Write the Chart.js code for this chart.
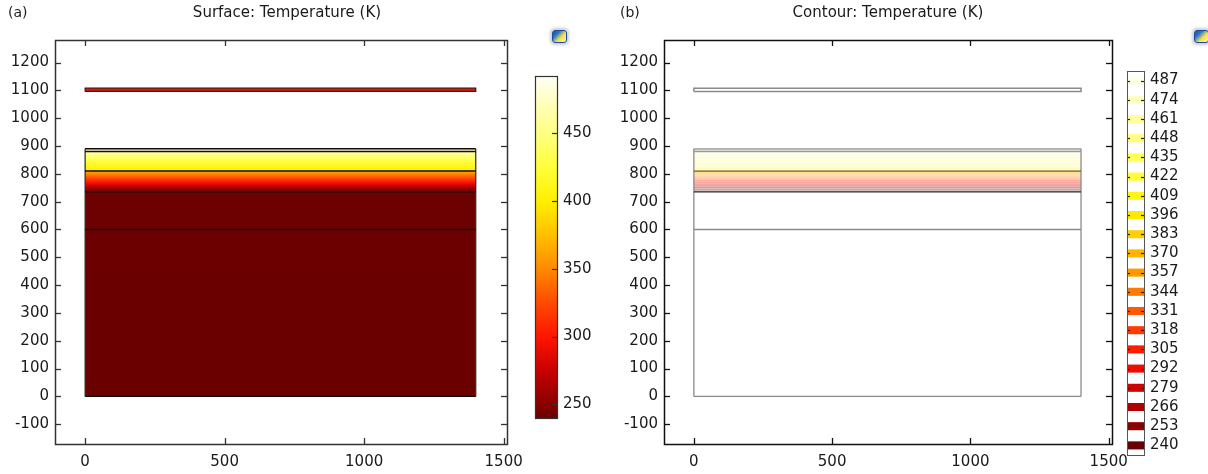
<!DOCTYPE html>
<html><head><meta charset="utf-8">
<script src="https://cdn.jsdelivr.net/npm/chart.js@4.4.0/dist/chart.umd.min.js"></script>
<style>
html,body{margin:0;padding:0;background:#fff;}
body{width:1208px;height:474px;position:relative;overflow:hidden;}
canvas{position:absolute;top:0;}
.ico{position:absolute;width:13px;height:11px;border-radius:3px;border:1px solid #1b4c9c;
 background:linear-gradient(135deg,#1b4c9c 0%,#2f78c8 30%,#f4e04a 60%,#fff7b0 100%);box-shadow:0 0 3px 2px rgba(170,170,180,0.6);}
</style></head><body>
<canvas id="pa" width="530" height="474" style="left:0"></canvas>
<canvas id="ca" width="80" height="474" style="left:525px"></canvas>
<canvas id="pb" width="530" height="474" style="left:608px"></canvas>
<canvas id="lb" width="90" height="474" style="left:1118px"></canvas>
<div class="ico" style="left:552px;top:30px"></div>
<div class="ico" style="left:1194px;top:30px"></div>
<script>
// ---------------- data ----------------
const xRange = [-108, 1512];
const yRange = [-171, 1281];
const xTicks = [0, 500, 1000, 1500];
const yTicks = [-100, 0, 100, 200, 300, 400, 500, 600, 700, 800, 900, 1000, 1100, 1200];
const domainX = [0, 1400];
const layerY = [0, 600, 735, 810, 880, 890];
const stripY = [1096, 1108];
const stripT = 295;
const profileY = [0, 737, 745, 755, 765, 775, 785, 795, 805, 809, 811, 820, 835, 850, 865, 875, 880, 890];
const profileT = [240, 241, 255, 272, 290, 308, 325, 342, 358, 366, 398, 405, 418, 432, 448, 462, 474, 487];
const tRange = [240, 492];
const colorbarTicks = [250, 300, 350, 400, 450];
const contourLevels = [240, 253, 266, 279, 292, 305, 318, 331, 344, 357, 370, 383, 396, 409, 422, 435, 448, 461, 474, 487];
const contourY = [740, 747, 754, 760, 766, 772, 778, 785, 792, 800, 806, 809, 812, 822, 834, 846, 857, 867, 877, 886];

// ---------------- colour map (style) ----------------
const cmapPos = [0, 0.04, 0.139, 0.238, 0.337, 0.437, 0.536, 0.635, 0.734, 0.833, 0.933, 1];
const cmapCol = ['#6a0000', '#880000', '#c80000', '#ff1400', '#ff4a00', '#ff8a00', '#ffc000', '#fff000', '#ffff3a', '#ffff80', '#ffffc4', '#fffff6'];
function hex2rgb(h){return [parseInt(h.substr(1,2),16),parseInt(h.substr(3,2),16),parseInt(h.substr(5,2),16)];}
function cmapRGB(t){
  let f=(t-tRange[0])/(tRange[1]-tRange[0]); f=Math.max(0,Math.min(1,f));
  for(let i=1;i<cmapPos.length;i++){
    if(f<=cmapPos[i]){const a=hex2rgb(cmapCol[i-1]),b=hex2rgb(cmapCol[i]);const u=(f-cmapPos[i-1])/(cmapPos[i]-cmapPos[i-1]);
      return a.map((v,k)=>Math.round(v+(b[k]-v)*u));}
  }
  return hex2rgb(cmapCol[cmapCol.length-1]);
}
function cmap(t,al){const c=cmapRGB(t);return al===undefined?`rgb(${c[0]},${c[1]},${c[2]})`:`rgba(${c[0]},${c[1]},${c[2]},${al})`;}

Chart.defaults.font.family = "'DejaVu Sans', sans-serif";
Chart.defaults.font.size = 15;
Chart.defaults.color = '#1a1a1a';

// ---------------- plugins ----------------
const frameTicks = {
  id:'frameTicks',
  afterDraw(chart,args,o){
    const c=chart.ctx,a=chart.chartArea; c.save();
    c.strokeStyle=o.color||'#222'; c.lineWidth=o.width||1.3;
    (o.sides||[]).forEach(s=>{
      const sc=chart.scales[s.scale];
      sc.ticks.forEach((t,i)=>{
        const p=Math.round(sc.getPixelForTick(i))+0.5;
        c.beginPath();
        if(s.side==='left'){c.moveTo(a.left,p);c.lineTo(a.left+s.len,p);}
        if(s.side==='right'){c.moveTo(a.right,p);c.lineTo(a.right-s.len,p);}
        if(s.side==='top'){c.moveTo(p,a.top);c.lineTo(p,a.top+s.len);}
        if(s.side==='bottom'){c.moveTo(p,a.bottom);c.lineTo(p,a.bottom-s.len);}
        c.stroke();
      });
    });
    if(o.frame){c.strokeStyle=o.frameColor||o.color||'#222';c.lineWidth=o.frameWidth||1.3;
      c.strokeRect(Math.round(a.left)+0.5,Math.round(a.top)+0.5,Math.round(a.right-a.left),Math.round(a.bottom-a.top));}
    c.restore();
  }
};
const panelText = {
  id:'panelText',
  afterDraw(chart,args,o){
    const c=chart.ctx; c.save();
    (o.items||[]).forEach(it=>{c.font=it.font;c.fillStyle=it.color||'#1a1a1a';c.textAlign=it.align||'left';c.textBaseline='middle';c.fillText(it.text,it.x,it.y);});
    c.restore();
  }
};
Chart.register(frameTicks, panelText);

function hLine(y){return domainX.map(x=>({x,y}));}
function lineDs(pts,color,w,order){return {data:pts,borderColor:color,borderWidth:w,pointRadius:0,fill:false,tension:0,order:order||0};}
function rectPts(x0,x1,y0,y1){return [{x:x0,y:y0},{x:x1,y:y0},{x:x1,y:y1},{x:x0,y:y1},{x:x0,y:y0}];}
function fixTicks(list){return function(s){s.ticks=list.map(v=>({value:v}));};}
function noPad(w,h){return function(s){if(w!==undefined)s.width=w;if(h!==undefined)s.height=h;s.paddingLeft=0;s.paddingRight=0;s.paddingTop=0;s.paddingBottom=0;};}

function axes(yWidth){
  return {
    x:{type:'linear',min:xRange[0],max:xRange[1],grid:{display:false,drawTicks:false},border:{display:false},
       afterBuildTicks:fixTicks(xTicks),
       ticks:{padding:9,maxRotation:0,autoSkip:false,callback:v=>String(v)},afterFit:noPad(undefined,30)},
    y:{type:'linear',min:yRange[0],max:yRange[1],grid:{display:false,drawTicks:false},border:{display:false},
       afterBuildTicks:fixTicks(yTicks),
       ticks:{padding:6,autoSkip:false,callback:v=>String(v)},afterFit:noPad(yWidth,undefined)}
  };
}
const baseOpts = {responsive:false,animation:false,events:[]};

// ---------------- panel (a) ----------------
const surfaceGradient = (ctx)=>{
  const ch=ctx.chart; if(!ch.chartArea) return cmap(profileT[0]);
  const y=ch.scales.y; const p0=y.getPixelForValue(profileY[0]), p1=y.getPixelForValue(profileY[profileY.length-1]);
  const g=ch.ctx.createLinearGradient(0,p0,0,p1);
  const span=profileY[profileY.length-1]-profileY[0];
  profileY.forEach((v,i)=>g.addColorStop((v-profileY[0])/span,cmap(profileT[i])));
  return g;
};
new Chart(document.getElementById('pa'),{
  type:'line',
  data:{datasets:[
    {data:hLine(layerY[layerY.length-1]),fill:{value:layerY[0]},backgroundColor:surfaceGradient,borderWidth:0,pointRadius:0,order:10},
    {data:hLine(stripY[1]),fill:{value:stripY[0]},backgroundColor:cmap(stripT),borderWidth:0,pointRadius:0,order:10},
    ...layerY.map(y=>lineDs(hLine(y),'#140808',1.4)),
    lineDs([{x:domainX[0],y:layerY[0]},{x:domainX[0],y:layerY[layerY.length-1]}],'#262020',1.2),
    lineDs([{x:domainX[1],y:layerY[0]},{x:domainX[1],y:layerY[layerY.length-1]}],'#262020',1.2),
    lineDs(rectPts(domainX[0],domainX[1],stripY[0],stripY[1]),'#401010',1.2)
  ]},
  options:{...baseOpts,layout:{padding:{top:40,right:23,left:0,bottom:0}},
    scales:axes(55),
    plugins:{legend:{display:false},tooltip:{enabled:false},
      frameTicks:{color:'#333',width:1.3,frame:true,frameWidth:1.5,sides:[
        {scale:'y',side:'left',len:6},{scale:'y',side:'right',len:6},{scale:'x',side:'top',len:6},{scale:'x',side:'bottom',len:6}]},
      panelText:{items:[{text:'(a)',x:8,y:13,font:"14px 'DejaVu Sans'"},{text:'Surface: Temperature (K)',x:287,y:13,align:'center',font:"15px 'DejaVu Sans'"}]}
    }}
});

// ---------------- colour bar (a) ----------------
new Chart(document.getElementById('ca'),{
  type:'line',
  data:{datasets:[{data:[{x:0,y:tRange[1]},{x:1,y:tRange[1]}],fill:{value:tRange[0]},borderWidth:0,pointRadius:0,
    backgroundColor:(ctx)=>{const ch=ctx.chart;if(!ch.chartArea)return '#f00';const y=ch.scales.y;
      const g=ch.ctx.createLinearGradient(0,y.getPixelForValue(tRange[0]),0,y.getPixelForValue(tRange[1]));
      cmapPos.forEach((p,i)=>g.addColorStop(p,cmapCol[i]));return g;}}]},
  options:{...baseOpts,layout:{padding:{left:10,top:76,bottom:56,right:0}},
    scales:{x:{type:'linear',min:0,max:1,display:false},
      y:{type:'linear',position:'right',min:tRange[0],max:tRange[1],grid:{display:false,drawTicks:false},border:{display:false},
        afterBuildTicks:fixTicks(colorbarTicks),
        ticks:{padding:6,autoSkip:false},afterFit:noPad(48,undefined)}},
    plugins:{legend:{display:false},tooltip:{enabled:false},
      frameTicks:{color:'#333',width:1.2,frame:true,frameWidth:1.2,sides:[{scale:'y',side:'right',len:5}]}}}
});

// ---------------- panel (b) ----------------
const layerColB = ['#8a8a8a','#8a8a8a','#2a2a2a','#6a6440','#9a9a9a','#9a9a9a'];
new Chart(document.getElementById('pb'),{
  type:'line',
  data:{datasets:[
    {data:hLine(layerY[5]),fill:{value:layerY[4]},backgroundColor:'rgba(160,160,160,0.55)',borderWidth:0,pointRadius:0,order:10},
    ...contourLevels.map((t,i)=>lineDs(hLine(contourY[i]),cmap(t,0.26),2.5,5)),
    ...layerY.map((y,i)=>lineDs(hLine(y),layerColB[i],1.3)),
    lineDs([{x:domainX[0],y:layerY[0]},{x:domainX[0],y:layerY[layerY.length-1]}],'#8a8a8a',1.3),
    lineDs([{x:domainX[1],y:layerY[0]},{x:domainX[1],y:layerY[layerY.length-1]}],'#8a8a8a',1.3),
    lineDs(rectPts(domainX[0],domainX[1],stripY[0],stripY[1]),'#8a8a8a',1.5)
  ]},
  options:{...baseOpts,layout:{padding:{top:40,right:26,left:0,bottom:0}},
    scales:axes(56),
    plugins:{legend:{display:false},tooltip:{enabled:false},
      frameTicks:{color:'#111',width:1.3,frame:true,frameWidth:1.5,sides:[
        {scale:'y',side:'left',len:6},{scale:'y',side:'right',len:6},{scale:'x',side:'top',len:6},{scale:'x',side:'bottom',len:6}]},
      panelText:{items:[{text:'(b)',x:12,y:13,font:"14px 'DejaVu Sans'"},{text:'Contour: Temperature (K)',x:280,y:13,align:'center',font:"15px 'DejaVu Sans'"}]}
    }}
});

// ---------------- contour legend (b) ----------------
const levelsDesc = contourLevels.slice().reverse();
new Chart(document.getElementById('lb'),{
  type:'bar',
  data:{labels:levelsDesc.map(String),datasets:[{data:levelsDesc.map(()=>1),backgroundColor:levelsDesc.map(t=>cmap(t)),
    barPercentage:0.42,categoryPercentage:1,borderWidth:0}]},
  options:{...baseOpts,indexAxis:'y',layout:{padding:{left:9,top:71,bottom:19,right:0}},
    scales:{x:{type:'linear',min:0,max:1,display:false},
      y:{position:'right',grid:{display:false,drawTicks:false},border:{display:false},ticks:{padding:6,autoSkip:false},afterFit:noPad(64,undefined)}},
    plugins:{legend:{display:false},tooltip:{enabled:false},
      frameTicks:{color:'#222',width:1.2,frame:true,frameColor:'#555',frameWidth:1,sides:[{scale:'y',side:'left',len:3},{scale:'y',side:'right',len:3}]}}}
});
</script>
</body></html>
